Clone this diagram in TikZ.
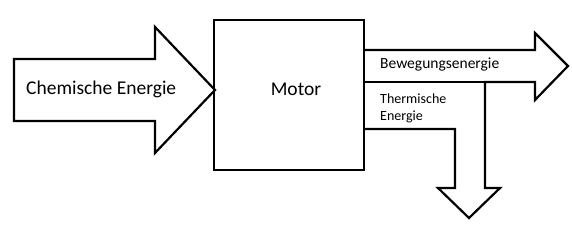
\documentclass[tikz,border=0pt]{standalone}
\usepackage{fontspec}
\setmainfont{Carlito}
\begin{document}
\begin{tikzpicture}[x=1pt,y=-1pt,
  outline/.style={draw=black,line width=2.2pt,line join=miter},
  lbl/.style={inner sep=0pt,anchor=west}]
\useasboundingbox[fill=white] (0,0) rectangle (572,232);
% left input arrow
\draw[outline] (14,59) -- (155,59) -- (155,27) -- (215,90) -- (155,153) -- (155,121) -- (14,121) -- cycle;
% motor box
\node[outline,minimum width=150pt,minimum height=150pt,inner sep=0pt] (motor) at (289,95) {};
\node[font=\fontsize{19.5}{22}\selectfont] (mt) at (296,89) {Motor};
% output arrows
\draw[outline] (motor.east |- 0,50) -- (535,50) -- (535,33) -- (568,66) -- (535,100) -- (535,82) -- (485,82) -- (485,188) -- (500,188) -- (469,218) -- (438,188) -- (455,188) -- (455,129) -- (motor.east |- 0,129);
\draw[outline] (motor.east |- 0,82) -- (485,82);
% labels
\node[lbl,font=\fontsize{19.5}{22}\selectfont] (ce) at (26,89) {Chemische Energie};
\node[lbl,font=\fontsize{15.5}{18}\selectfont] (be) at (380,65) {Bewegungsenergie};
\node[lbl,font=\fontsize{14}{17}\selectfont,align=left] (te) at (380,108) {Thermische\\Energie};
\end{tikzpicture}
\end{document}
